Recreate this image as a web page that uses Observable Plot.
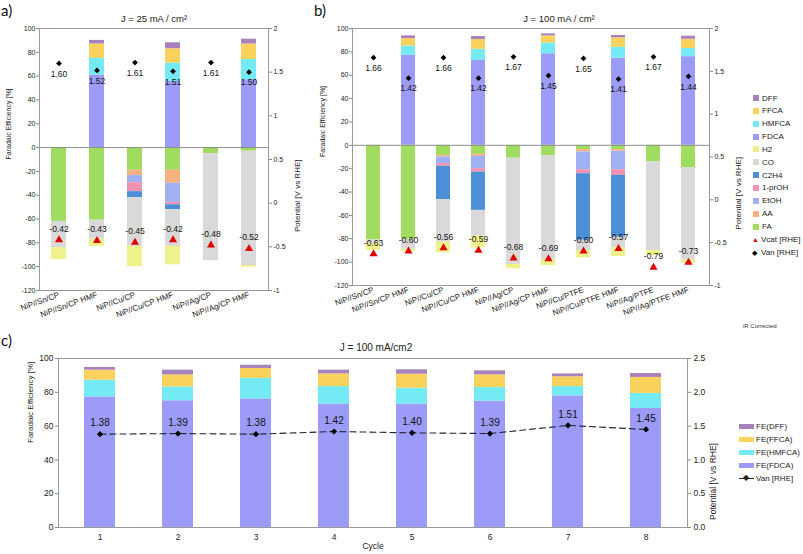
<!DOCTYPE html>
<html><head><meta charset="utf-8">
<script src="https://cdn.jsdelivr.net/npm/d3@7"></script>
<script src="https://cdn.jsdelivr.net/npm/@observablehq/plot@0.6"></script>
<style>
body{margin:0;background:#fff;font-family:"Liberation Sans",Arial,sans-serif;color:#222;}
#root{position:relative;width:803px;height:554px;overflow:hidden;background:#fff;}
.abs{position:absolute;}
.plab{position:absolute;font-family:Lato,"Open Sans",sans-serif;font-size:15px;line-height:18px;color:#111;}
.leg{position:absolute;font-size:8px;line-height:9px;white-space:nowrap;display:flex;align-items:center;color:#222;}
.sw{display:inline-block;width:6px;height:6px;margin-right:3px;}
.legc{position:absolute;font-size:8px;line-height:9px;white-space:nowrap;display:flex;align-items:center;color:#222;}
.swc{display:inline-block;width:15px;height:5px;margin-right:2px;}
</style></head><body><div id="root"></div>
<script>
// ---------- categories / tick labels ----------
const catsA = ["NiP//Sn/CP","NiP//Sn/CP HMF","NiP//Cu/CP","NiP//Cu/CP HMF","NiP//Ag/CP","NiP//Ag/CP HMF"];
const catsB = ["NiP//Sn/CP","NiP//Sn/CP HMF","NiP//Cu/CP","NiP//Cu/CP HMF","NiP//Ag/CP","NiP//Ag/CP HMF","NiP//Cu/PTFE","NiP//Cu/PTFE HMF","NiP//Ag/PTFE","NiP//Ag/PTFE HMF"];
const cyclesC = ["1","2","3","4","5","6","7","8"];
const ticksFE_AB = [-120,-100,-80,-60,-40,-20,0,20,40,60,80,100];
const ticksV_AB = [-1,-0.5,0,0.5,1,1.5,2];
const ticksFE_C = [0,20,40,60,80,100];
const ticksV_C = [0,0.5,1,1.5,2,2.5];

// ---------- panel a (J = 25 mA/cm2) ----------
const A_FDCA  = [0,61,0,55.5,0,57];
const A_HMFCA = [0,14,0,15.5,0,17];
const A_FFCA  = [0,12,0,12,0,13];
const A_DFF   = [0,3,0,5,0,4];
const A_FA    = [62,61,19,19,5,3];
const A_AA    = [0,0,4.5,11,0,0];
const A_EtOH  = [0,0,6,16,0,0];
const A_prOH  = [0,0,7.5,2,0,0];
const A_C2H4  = [0,0,5,4,0,0];
const A_CO    = [22,16,41,31,90,96];
const A_H2    = [10,6,17,15.5,0,1.5];
const A_Van   = [1.60,1.52,1.61,1.51,1.61,1.50];
const A_Vcat  = [-0.42,-0.43,-0.45,-0.42,-0.48,-0.52];

// ---------- panel b (J = 100 mA/cm2) ----------
const B_FDCA  = [0,77,0,72.7,0,78.4,0,74.7,0,75.9];
const B_HMFCA = [0,8,0,9.5,0,9.2,0,9.2,0,6.9];
const B_FFCA  = [0,6.4,0,8.3,0,6.1,0,8.1,0,8];
const B_DFF   = [0,2.3,0,2.6,0,1.7,0,2,0,2.6];
const B_FA    = [81,80.5,8.6,7.7,11,9,3.7,3.7,14.3,19];
const B_AA    = [0,0,1.4,1.7,0,0,2,1.4,0,0];
const B_EtOH  = [0,0,5.7,10.6,0,0,15.2,15.8,0,0];
const B_prOH  = [0,0,2.3,2.9,0,0,3.4,4.8,0,0];
const B_C2H4  = [0,0,28.6,32.8,0,0,57,53,0,0];
const B_CO    = [3,8.5,36.3,22,91,89,8.7,9,75.7,79];
const B_H2    = [6,2,9,10,3.7,5,6.3,7.4,4.3,3];
const B_Van   = [1.66,1.42,1.66,1.42,1.67,1.45,1.65,1.41,1.67,1.44];
const B_Vcat  = [-0.63,-0.60,-0.56,-0.59,-0.68,-0.69,-0.60,-0.57,-0.79,-0.73];

// ---------- panel c (cycling, J = 100 mA/cm2) ----------
const C_FDCA  = [77.3,75,76.1,73,73,74.8,77.9,70.4];
const C_HMFCA = [9.9,8.2,12.1,10.4,9.4,8,5.5,8.9];
const C_FFCA  = [5.9,7.1,5.9,7.5,8.3,7.5,5.8,9.5];
const C_DFF   = [1.6,2.8,1.9,2.2,2.6,2.4,1.7,2.3];
const C_Van   = [1.38,1.39,1.38,1.42,1.40,1.39,1.51,1.45];

// ---------- products / colours ----------
const prodColors = {FDCA:"#9d9bf8",HMFCA:"#74ebf4",FFCA:"#f9d25e",DFF:"#a882bb",
  FA:"#9fdc60",AA:"#f5b17f",EtOH:"#9fb1f3","1-prOH":"#f093b0",C2H4:"#4c8fd6",CO:"#d9d9d9",H2:"#eef18c"};
const legendAB = ["DFF","FFCA","HMFCA","FDCA","H2","CO","C2H4","1-prOH","EtOH","AA","FA"];

const FONT = "'Liberation Sans', Arial, sans-serif";
const toFE = v => (v + 1) * 220 / 3 - 120;
const toV = fe => (fe + 120) * 3 / 220 - 1;
const fmtV = fe => String(Math.round(toV(fe) * 10) / 10);

function rows(cats, pos, neg) {
  const out = [];
  cats.forEach((c, i) => {
    pos.forEach(([n, arr]) => { if (arr[i] > 0) out.push({cat: c, product: n, fe: arr[i]}); });
    neg.forEach(([n, arr]) => { if (arr[i] > 0) out.push({cat: c, product: n, fe: -arr[i]}); });
  });
  return out;
}
const pts = (cats, vals) => cats.map((c, i) => ({cat: c, v: vals[i]}));
const colorScale = {domain: Object.keys(prodColors), range: Object.values(prodColors)};

function panelAB(cats, data, van, vcat, title, dims, titleDx) {
  return Plot.plot({
    width: dims.w, height: dims.h,
    marginLeft: dims.ml, marginRight: dims.mr, marginTop: 28, marginBottom: dims.mb,
    style: {fontFamily: FONT, fontSize: "7px", background: "transparent", overflow: "visible", color: "#222"},
    x: {domain: cats, paddingInner: 0.6, paddingOuter: 0.3, axis: null},
    y: {domain: [-120, 100], axis: null},
    color: colorScale,
    marks: [
      Plot.barY(data, {x: "cat", y: "fe", fill: "product"}),
      Plot.ruleY([0], {stroke: "#8c8c8c"}),
      Plot.frame({stroke: "#9a9a9a"}),
      Plot.axisY(ticksFE_AB, {anchor: "left", tickSize: 3, tickPadding: 1, tickFormat: d => String(d), label: null, stroke: "#888", fontSize: 7}),
      Plot.axisY(ticksV_AB.map(toFE), {anchor: "right", tickSize: 3, tickPadding: 2, tickFormat: fmtV, label: null, stroke: "#888", fontSize: 7}),
      Plot.axisX({tickRotate: -20, tickSize: 0, tickPadding: 4, label: null, fontSize: 8}),
      Plot.dot(van, {x: "cat", y: d => toFE(d.v), symbol: "diamond2", fill: "#000", r: 2.6}),
      Plot.text(van, {x: "cat", y: d => toFE(d.v), text: d => d.v.toFixed(2), dy: 10.5, fontSize: 8.5, fill: "#111"}),
      Plot.dot(vcat, {x: "cat", y: d => toFE(d.v), symbol: "triangle", fill: "#e00000", r: 3}),
      Plot.text(vcat, {x: "cat", y: d => toFE(d.v), text: d => d.v.toFixed(2), dy: -11, fontSize: 8.5, fill: "#111"}),
      Plot.text(["Faradaic Efficiency [%]"], {frameAnchor: "left", text: d => d, rotate: -90, dx: dims.ldx, fontSize: 7}),
      Plot.text(["Potential [V vs RHE]"], {frameAnchor: "right", text: d => d, rotate: -90, dx: 29, fontSize: 8}),
      Plot.text([title], {frameAnchor: "top", text: d => d, dy: -13, dx: titleDx, fontSize: 9.5})
    ]
  });
}

const root = document.getElementById("root");
function place(el, left, top) { el.style.position = "absolute"; el.style.left = left + "px"; el.style.top = top + "px"; root.appendChild(el); }

const dataA = rows(catsA,
  [["FDCA",A_FDCA],["HMFCA",A_HMFCA],["FFCA",A_FFCA],["DFF",A_DFF]],
  [["FA",A_FA],["AA",A_AA],["EtOH",A_EtOH],["1-prOH",A_prOH],["C2H4",A_C2H4],["CO",A_CO],["H2",A_H2]]);
const dataB = rows(catsB,
  [["FDCA",B_FDCA],["HMFCA",B_HMFCA],["FFCA",B_FFCA],["DFF",B_DFF]],
  [["FA",B_FA],["AA",B_AA],["EtOH",B_EtOH],["1-prOH",B_prOH],["C2H4",B_C2H4],["CO",B_CO],["H2",B_H2]]);

place(panelAB(catsA, dataA, pts(catsA, A_Van), pts(catsA, A_Vcat), "J = 25 mA / cm²",
  {w: 303, h: 330, ml: 39, mr: 35, mb: 40, ldx: -31}, 0), 0, 0);
place(panelAB(catsB, dataB, pts(catsB, B_Van), pts(catsB, B_Vcat), "J = 100 mA / cm²",
  {w: 440, h: 330, ml: 52, mr: 31, mb: 45, ldx: -30}, 28), 300, 0);

// ---------- panel c ----------
const dataC = [];
cyclesC.forEach((c, i) => {
  [["FDCA",C_FDCA],["HMFCA",C_HMFCA],["FFCA",C_FFCA],["DFF",C_DFF]].forEach(([n, arr]) => dataC.push({cat: c, product: n, fe: arr[i]}));
});
const vanC = pts(cyclesC, C_Van);
const plotC = Plot.plot({
  width: 730, height: 224, marginLeft: 58, marginRight: 43, marginTop: 28, marginBottom: 27,
  style: {fontFamily: FONT, fontSize: "8.5px", background: "transparent", overflow: "visible", color: "#222"},
  x: {domain: cyclesC, paddingInner: 0.6, paddingOuter: 0.3, axis: null},
  y: {domain: [0, 100], axis: null},
  color: colorScale,
  marks: [
    Plot.barY(dataC, {x: "cat", y: "fe", fill: "product"}),
    Plot.frame({stroke: "#9a9a9a"}),
    Plot.axisY(ticksFE_C, {anchor: "left", tickSize: 3, tickPadding: 2, tickFormat: d => String(d), label: null, stroke: "#888", fontSize: 8.5}),
    Plot.axisY(ticksV_C.map(v => v * 40), {anchor: "right", tickSize: 3, tickPadding: 3, tickFormat: d => (d / 40).toFixed(1), label: null, stroke: "#888", fontSize: 8.5}),
    Plot.axisX({tickSize: 0, tickPadding: 6, label: null, fontSize: 8.5}),
    Plot.line(vanC, {x: "cat", y: d => d.v * 40, stroke: "#1f2330", strokeWidth: 1.1, strokeDasharray: "6,4"}),
    Plot.dot(vanC, {x: "cat", y: d => d.v * 40, symbol: "diamond2", fill: "#000", r: 2.8}),
    Plot.text(vanC, {x: "cat", y: d => d.v * 40, text: d => d.v.toFixed(2), dy: -11, fontSize: 10, fill: "#111"}),
    Plot.text(["Faradaic Efficiency [%]"], {frameAnchor: "left", text: d => d, rotate: -90, dx: -28, fontSize: 8}),
    Plot.text(["Potential [V vs RHE]"], {frameAnchor: "right", text: d => d, rotate: -90, dx: 26, fontSize: 8.5}),
    Plot.text(["Cycle"], {frameAnchor: "bottom", text: d => d, dy: 21, fontSize: 8.5}),
    Plot.text(["J = 100 mA/cm2"], {frameAnchor: "top", text: d => d, dy: -15, dx: 3, fontSize: 10})
  ]
});
place(plotC, 0, 330);

// ---------- panel letters, notes ----------
function label(txt, cls, left, top, extra) {
  const d = document.createElement("div"); d.className = cls; d.textContent = txt;
  d.style.left = left + "px"; d.style.top = top + "px";
  if (extra) Object.assign(d.style, extra);
  root.appendChild(d);
}
label("a)", "plab", 1, 1);
label("b)", "plab", 314, 1);
label("c)", "plab", 1, 331);
label("iR Corrected", "abs", 743, 323, {fontSize: "6px", color: "#333"});

// ---------- legend a/b ----------
legendAB.forEach((n, i) => {
  const d = document.createElement("div"); d.className = "leg";
  d.style.left = "753px"; d.style.top = (93.5 + i * 12.85) + "px";
  d.innerHTML = `<span class="sw" style="background:${prodColors[n]}"></span>`;
  d.appendChild(document.createTextNode(n));
  root.appendChild(d);
});
[["Vcat [RHE]", "▲", "#e00000"], ["Van [RHE]", "◆", "#000"]].forEach(([n, s, c], j) => {
  const d = document.createElement("div"); d.className = "leg";
  d.style.left = "752px"; d.style.top = (93.5 + (11 + j) * 12.85) + "px";
  d.innerHTML = `<span style="color:${c};font-size:7px;width:8px;display:inline-block;margin-right:1px">${s}</span>`;
  d.appendChild(document.createTextNode(n));
  root.appendChild(d);
});

// ---------- legend c ----------
["DFF","FFCA","HMFCA","FDCA"].forEach((n, i) => {
  const d = document.createElement("div"); d.className = "legc";
  d.style.left = "739px"; d.style.top = (422 + i * 13) + "px";
  d.innerHTML = `<span class="swc" style="background:${prodColors[n]}"></span>`;
  d.appendChild(document.createTextNode("FE(" + n + ")"));
  root.appendChild(d);
});
{
  const d = document.createElement("div"); d.className = "legc";
  d.style.left = "739px"; d.style.top = (422 + 4 * 13) + "px";
  d.innerHTML = `<span style="position:relative;display:inline-block;width:15px;height:9px;margin-right:2px"><span style="position:absolute;left:0;right:0;top:4px;border-top:1.2px solid #222"></span><span style="position:absolute;left:4px;top:-1px;font-size:8px;line-height:9px">◆</span></span>`;
  d.appendChild(document.createTextNode("Van [RHE]"));
  root.appendChild(d);
}
</script>
</body></html>
